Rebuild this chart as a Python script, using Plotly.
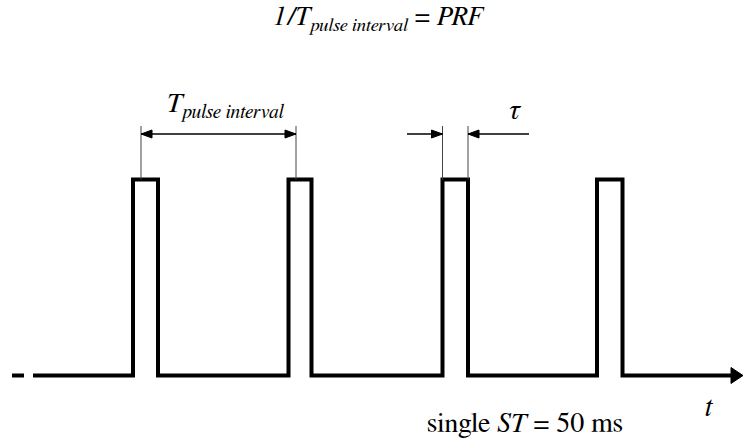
import plotly.graph_objects as go

W, H = 743, 443
FONT = "FreeSerif, 'Liberation Serif', 'Times New Roman', serif"

# ---- pulse train: time on x (arbitrary units), level 0 = low, 1 = high ----
pulse_start = [133, 288.5, 442.5, 597]
pulse_end = [158, 311.5, 468, 622.5]
train_begin = 33
train_end = 733
axis_tip = 743
lead_dash = [12, 24]
low, high = 0, 1

# reference marks for the pulse interval (two successive pulses)
interval_marks = [141, 296]
# pulse whose width is annotated with tau
tau_pulse = 2
tau_arrow_tails = [407, 529]

# ---- axes geometry: pixel rows of the low and high levels ----
low_px, high_px = 375.5, 179.5
unit_px = low_px - high_px
y_lo = low - (H - low_px) / unit_px
y_hi = high + high_px / unit_px


def yv(py):
    """data y for a pixel row"""
    return high + (high_px - py) / unit_px


def head(tip_x, tip_y, direction, length, half):
    """filled triangle arrowhead, length/half in pixels"""
    bx = tip_x - direction * length
    dy = half / unit_px
    return [tip_x, bx, bx, tip_x], [tip_y, tip_y + dy, tip_y - dy, tip_y]


fig = go.Figure()

# pulse waveform
xs, ys = [train_begin], [low]
for s, e in zip(pulse_start, pulse_end):
    xs += [s, s, e, e]
    ys += [low, high, high, low]
xs.append(train_end)
ys.append(low)

thick = dict(color="black", width=4)
fig.add_trace(go.Scatter(x=xs, y=ys, mode="lines", line=thick))
fig.add_trace(go.Scatter(x=lead_dash, y=[low, low], mode="lines", line=thick))

# time-axis arrowhead
hx, hy = head(axis_tip, low, 1, 12, 8)
fig.add_trace(go.Scatter(x=hx, y=hy, mode="lines", fill="toself",
                         fillcolor="black", line=dict(color="black", width=1)))

thin = dict(color="#444444", width=1)
arrow_line = dict(color="black", width=1.3)
arrow_y = yv(134)
mark_top = yv(126)

# pulse interval dimension
for m in interval_marks:
    fig.add_trace(go.Scatter(x=[m, m], y=[mark_top, high], mode="lines", line=thin))
fig.add_trace(go.Scatter(x=interval_marks, y=[arrow_y, arrow_y], mode="lines",
                         line=arrow_line))
for m, d in zip(interval_marks, [-1, 1]):
    hx, hy = head(m, arrow_y, d, 11, 4)
    fig.add_trace(go.Scatter(x=hx, y=hy, mode="lines", fill="toself",
                             fillcolor="black", line=dict(color="black", width=1)))

# pulse width (tau) dimension
tau_marks = [pulse_start[tau_pulse], pulse_end[tau_pulse]]
for m in tau_marks:
    fig.add_trace(go.Scatter(x=[m, m], y=[mark_top, high], mode="lines", line=thin))
for tail, m, d in zip(tau_arrow_tails, tau_marks, [1, -1]):
    fig.add_trace(go.Scatter(x=[tail, m], y=[arrow_y, arrow_y], mode="lines",
                             line=arrow_line))
    hx, hy = head(m, arrow_y, d, 11, 4)
    fig.add_trace(go.Scatter(x=hx, y=hy, mode="lines", fill="toself",
                             fillcolor="black", line=dict(color="black", width=1)))


def label(text, px, py, size, xanchor="center"):
    fig.add_annotation(text=text, xref="paper", yref="paper",
                       x=px / W, y=1 - py / H, xanchor=xanchor, yanchor="middle",
                       showarrow=False, font=dict(family=FONT, size=size, color="black"))


label("<i>1/T<sub>pulse interval</sub></i> = <i>PRF</i>", 379.5, 19, 27)
label("<i>T<sub>pulse interval</sub></i>", 164, 106, 28, xanchor="left")
label("<i>τ</i>", 515, 111, 28)
label("<i>t</i>", 709, 408, 28)
label("single <i>ST</i> = 50 ms", 425, 424, 28, xanchor="left")

fig.update_layout(
    width=W, height=H, margin=dict(l=0, r=0, t=0, b=0),
    paper_bgcolor="white", plot_bgcolor="white", showlegend=False,
    font=dict(family=FONT),
    xaxis=dict(range=[0, W], visible=False, fixedrange=True),
    yaxis=dict(range=[y_lo, y_hi], visible=False, fixedrange=True),
)

fig.write_html("out.html")
